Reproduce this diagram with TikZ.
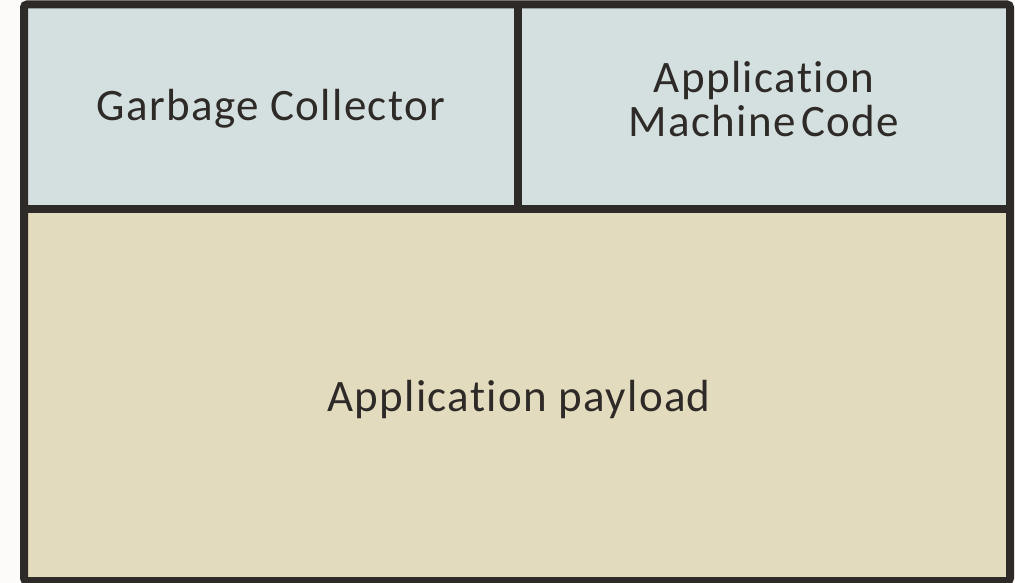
\documentclass[tikz,border=0pt]{standalone}
\usepackage{fontspec}
\setmainfont{Carlito}[LetterSpace=3, Ligatures=NoCommon]
\definecolor{pagebg}{HTML}{FCFBF9}
\definecolor{frame}{HTML}{2E2A27}
\definecolor{topcell}{HTML}{D4DFE0}
\definecolor{payload}{HTML}{E3DBBE}
\definecolor{ink}{HTML}{2E2A27}
\tikzset{
  border/.style={draw=frame, line width=8pt},
  label/.style={text=ink, font=\fontsize{45}{44}\selectfont, align=center,
    inner sep=0pt, anchor=base}
}
\begin{document}
\begin{tikzpicture}[x=1pt,y=-1pt]
  \fill[pagebg] (0,0) rectangle (1015,583);
  \useasboundingbox (0,0) rectangle (1015,583);
  % cells
  \fill[topcell] (24,4.5) rectangle (518,209);
  \fill[topcell] (518,4.5) rectangle (1010,209);
  \fill[payload] (24,209) rectangle (1010,581);
  % frame and dividers
  \draw[border, rounded corners=3pt] (24,4.5) rectangle (1010,581);
  \draw[border] (24,209) -- (1010,209);
  \draw[border] (518,4.5) -- (518,209);
  % labels
  \node[label] (gc) at (271,120.7) {Garbage Collector};
  \node[label] (amc) at (764,137) {Application\\Machine\hspace{0.12em}Code};
  \node[label] (pay) at (519,411.7) {Application payload};
\end{tikzpicture}
\end{document}
